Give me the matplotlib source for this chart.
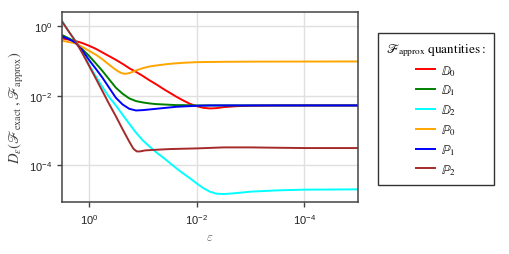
import numpy as np
import matplotlib
matplotlib.use("Agg")
import matplotlib.pyplot as plt
from matplotlib.ticker import NullLocator

plt.rcParams['font.family'] = ['Liberation Sans', 'DejaVu Sans']
plt.rcParams['mathtext.fontset'] = 'custom'
plt.rcParams['mathtext.rm'] = 'Liberation Sans'
plt.rcParams['mathtext.it'] = 'Liberation Sans:italic'

# data, stored as log10 values
logeps_D0 = [0.5, 0.375, 0.25, 0.125, 0, -0.125, -0.25, -0.375, -0.5, -0.625, -0.75, -0.875, -1.0,
             -1.125, -1.25, -1.375, -1.5, -1.625, -1.75, -1.875, -2.0, -2.125, -2.25, -2.375, -2.5,
             -2.75, -3.0, -3.5, -5.0]
logD_D0 = [-0.348, -0.386, -0.425, -0.483, -0.560, -0.647, -0.754, -0.860, -0.966, -1.082, -1.208,
           -1.314, -1.430, -1.556, -1.671, -1.797, -1.913, -2.029, -2.135, -2.232, -2.300, -2.348,
           -2.367, -2.357, -2.329, -2.300, -2.290, -2.280, -2.280]

logeps_D1 = [0.5, 0.375, 0.25, 0.125, 0, -0.125, -0.25, -0.375, -0.5, -0.625, -0.75, -0.875, -1.0,
             -1.125, -1.25, -1.375, -1.5, -1.625, -1.75, -2.0, -5.0]
logD_D1 = [-0.251, -0.348, -0.454, -0.657, -0.850, -1.063, -1.285, -1.527, -1.768, -1.942, -2.077,
           -2.155, -2.193, -2.222, -2.242, -2.251, -2.261, -2.271, -2.271, -2.280, -2.280]

logeps_D2 = [0.5, 0.377, 0.253, 0.130, 0, -0.123, -0.247, -0.370, -0.5, -0.623, -0.747, -0.870, -1.0,
             -1.123, -1.247, -1.377, -1.5, -1.623, -1.747, -1.877, -2.0, -2.123, -2.247, -2.370,
             -2.5, -2.679, -3.0, -3.5, -4.0, -5.0]
logD_D2 = [0.155, -0.145, -0.415, -0.725, -1.101, -1.430, -1.739, -2.029, -2.280, -2.541, -2.802,
           -3.053, -3.285, -3.459, -3.623, -3.778, -3.932, -4.087, -4.232, -4.377, -4.522, -4.657,
           -4.763, -4.821, -4.831, -4.812, -4.763, -4.725, -4.705, -4.696]

logeps_P0 = [0.5, 0.377, 0.253, 0.130, 0, -0.123, -0.247, -0.370, -0.5, -0.593, -0.673, -0.765,
             -0.870, -1.0, -1.123, -1.247, -1.5, -1.747, -2.0, -2.5, -3.0, -5.0]
logD_P0 = [-0.415, -0.454, -0.493, -0.589, -0.705, -0.812, -0.947, -1.101, -1.256, -1.343, -1.372,
           -1.343, -1.275, -1.208, -1.159, -1.130, -1.082, -1.053, -1.034, -1.024, -1.019, -1.014]

logeps_P1 = [0.5, 0.375, 0.25, 0.125, 0, -0.125, -0.25, -0.375, -0.5, -0.625, -0.75, -0.875, -1.0,
             -1.125, -1.25, -1.375, -1.5, -1.625, -1.75, -1.875, -2.0, -2.125, -2.25, -5.0]
logD_P1 = [-0.290, -0.367, -0.473, -0.686, -0.966, -1.217, -1.478, -1.768, -2.058, -2.251, -2.377,
           -2.425, -2.415, -2.396, -2.377, -2.357, -2.338, -2.319, -2.309, -2.300, -2.290, -2.285,
           -2.280, -2.280]

logeps_P2 = [0.5, 0.377, 0.253, 0.130, 0, -0.123, -0.247, -0.370, -0.5, -0.623, -0.747, -0.827,
             -0.889, -0.951, -1.043, -1.247, -1.5, -2.0, -2.5, -3.0, -3.5, -4.0, -5.0]
logD_P2 = [0.135, -0.145, -0.425, -0.754, -1.130, -1.488, -1.855, -2.222, -2.589, -2.957, -3.314,
           -3.527, -3.604, -3.604, -3.575, -3.556, -3.536, -3.517, -3.488, -3.488, -3.498, -3.507,
           -3.507]

labels = [r'$\mathbb{D}_0$', r'$\mathbb{D}_1$', r'$\mathbb{D}_2$',
          r'$\mathbb{P}_0$', r'$\mathbb{P}_1$', r'$\mathbb{P}_2$']
colors = ['red', 'green', 'cyan', 'orange', 'blue', 'brown']
series = [(logeps_D0, logD_D0), (logeps_D1, logD_D1), (logeps_D2, logD_D2),
          (logeps_P0, logD_P0), (logeps_P1, logD_P1), (logeps_P2, logD_P2)]

fig = plt.figure(figsize=(5.1, 2.55), dpi=100)
ax = fig.add_axes([62/510, 1-203/255, 296/510, 190/255])

for (lx, ly), c, lab in zip(series, colors, labels):
    ax.plot(10.0**np.array(lx), 10.0**np.array(ly), color=c, lw=1.4, label=lab)

ax.set_xscale('log')
ax.set_yscale('log')
ax.set_xlim(10**0.5, 1e-5)
ax.set_ylim(10**-5.06, 10**0.41)
ax.set_xticks([1, 1e-2, 1e-4])
ax.set_yticks([1, 1e-2, 1e-4])
ax.xaxis.set_minor_locator(NullLocator())
ax.yaxis.set_minor_locator(NullLocator())
ax.grid(True, color='#e0e0e0', lw=1.0)
ax.set_axisbelow(True)
for s in ax.spines.values():
    s.set_color('#444444')
    s.set_linewidth(1.1)
ax.tick_params(labelsize=8, length=3.5, width=1, color='#444444', labelcolor='#222222')

ax.set_xlabel(r'$\varepsilon$', fontsize=9, color='#555555', math_fontfamily='cm', labelpad=4)
ax.set_ylabel(r'$D_\varepsilon(\mathscr{F}_{\mathrm{exact}}\,,\mathscr{F}_{\mathrm{approx}})$',
              fontsize=10.5, color='#444444', math_fontfamily='stix', labelpad=2)

leg = fig.legend(loc='upper left', bbox_to_anchor=(378/510, 1-34/255), borderaxespad=0,
                 title=r'$\mathscr{F}_{\mathrm{approx}}\ \mathrm{quantities:}$',
                 fontsize=9, title_fontsize=9.5, handlelength=1.5, handletextpad=0.5,
                 labelspacing=0.4, borderpad=0.65, fancybox=False, framealpha=1,
                 edgecolor='#333333')
leg.get_frame().set_linewidth(1.0)
leg.get_title().set_math_fontfamily('stix')
for t in leg.get_texts():
    t.set_math_fontfamily('stix')

fig.savefig('out.png', dpi=100)
